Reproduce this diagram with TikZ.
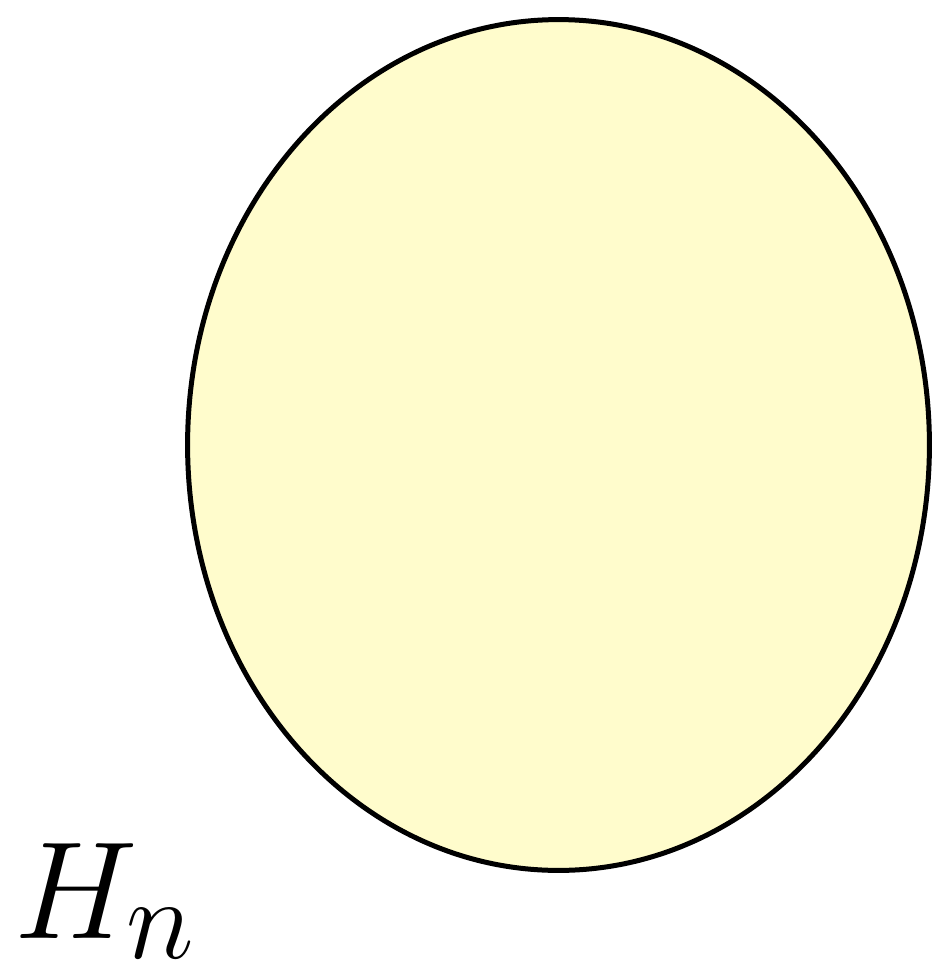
\documentclass[tikz,border=0pt]{standalone}
\usepackage{graphicx}
\usetikzlibrary{shapes.geometric}
\definecolor{paleyellow}{HTML}{FFFCCC}
\tikzset{
	blob/.style={ellipse, draw, line width=0.1cm, fill=paleyellow, inner sep=0pt,
		minimum width=14.84cm, minimum height=17.02cm},
	biglabel/.style={inner sep=0pt, anchor=base west, font=\Huge}
}
\begin{document}
\begin{tikzpicture}[x=0.02cm, y=-0.02cm]
	\useasboundingbox (0,0) rectangle (934,964);
	\node[blob] (set) at (558.5,445) {};
	\node[biglabel] (name) at (14,938) {\scalebox{3.175}{$H_n$}};
\end{tikzpicture}
\end{document}
